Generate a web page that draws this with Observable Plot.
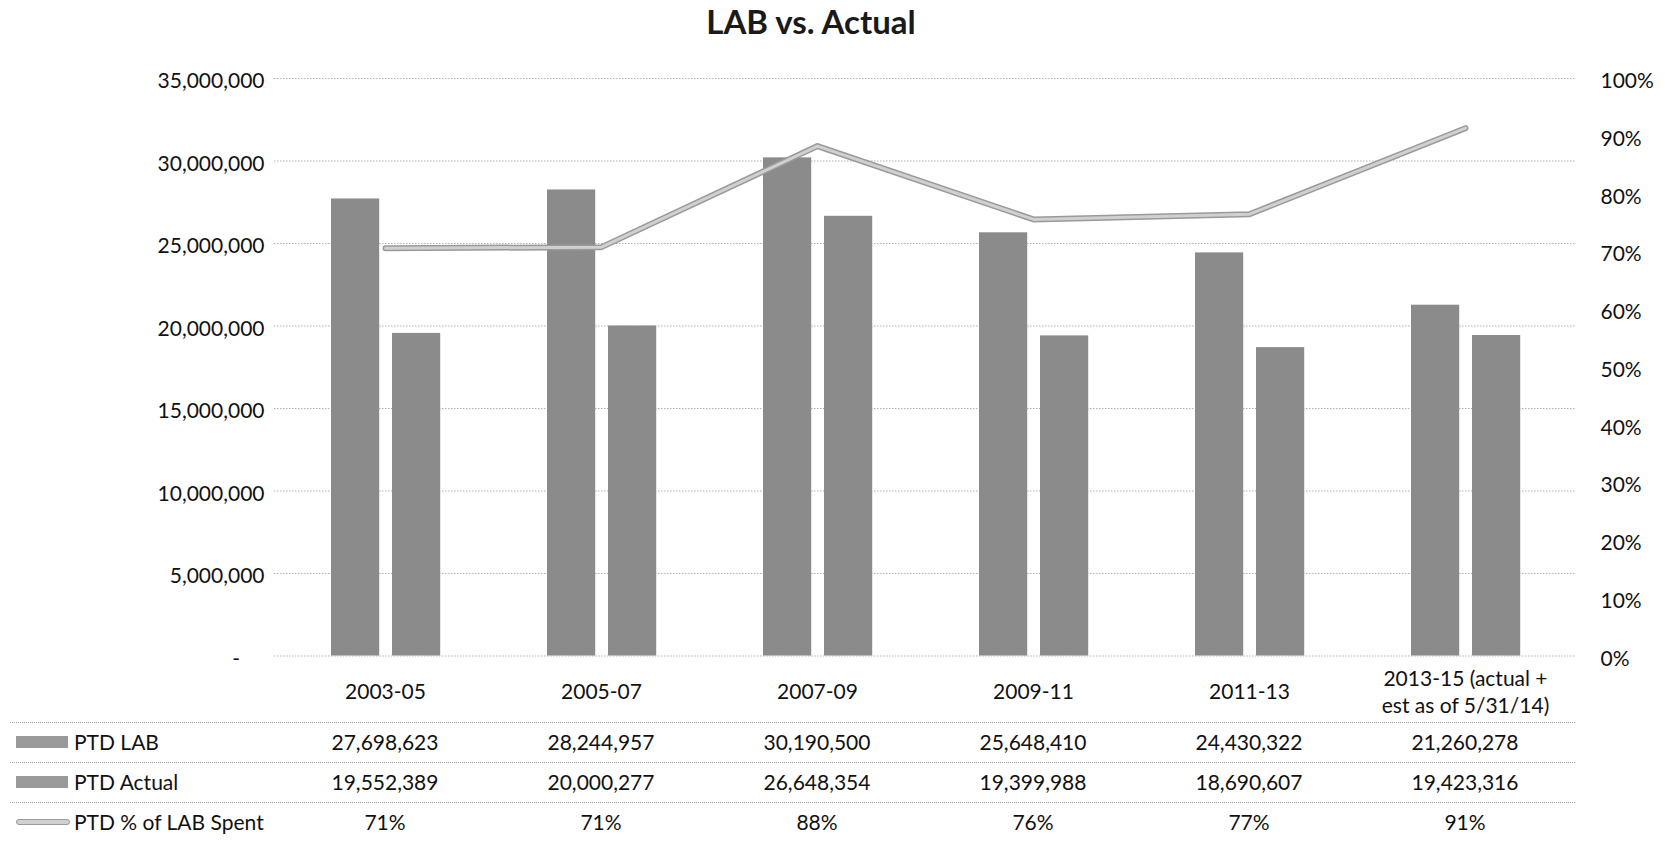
<!DOCTYPE html>
<html>
<head>
<meta charset="utf-8">
<script src="https://cdn.jsdelivr.net/npm/d3@7"></script>
<script src="https://cdn.jsdelivr.net/npm/@observablehq/plot@0.6"></script>
<style>
  html, body { margin: 0; padding: 0; background: #fff; }
  #root { position: relative; width: 1665px; height: 841px; font-family: Lato, "Open Sans", sans-serif; color: #111; overflow: hidden; }
  #title { position: absolute; left: 0; top: 0; width: 1622px; height: 42px; line-height: 42px; text-align: center; font-size: 33px; font-weight: bold; color: #1a1a1a; }
  #chart { position: absolute; left: 0; top: 44px; }
  .tline { position: absolute; height: 0; border-top: 1px dotted #a0a0a0; }
  .trow { position: absolute; height: 40px; line-height: 40px; font-size: 21px; white-space: nowrap; }
  .swatch { position: absolute; }
</style>
</head>
<body>
<div id="root">
  <div id="title">LAB vs. Actual</div>
  <div id="chart"></div>
</div>
<script>
// ---- data ----
const categories = ["2003-05", "2005-07", "2007-09", "2009-11", "2011-13", "2013-15"];
const categoryLabels = ["2003-05", "2005-07", "2007-09", "2009-11", "2011-13", "2013-15 (actual +\nest as of 5/31/14)"];
const ptdLab = [27698623, 28244957, 30190500, 25648410, 24430322, 21260278];
const ptdActual = [19552389, 20000277, 26648354, 19399988, 18690607, 19423316];
const ptdPct = [0.706, 0.708, 0.883, 0.756, 0.765, 0.914];
const pctLabels = ["71%", "71%", "88%", "76%", "77%", "91%"];
const seriesNames = ["PTD LAB", "PTD Actual", "PTD % of LAB Spent"];
const leftTicks = [0, 5000000, 10000000, 15000000, 20000000, 25000000, 30000000, 35000000];
const rightTicks = [0, 0.1, 0.2, 0.3, 0.4, 0.5, 0.6, 0.7, 0.8, 0.9, 1.0];
const yMax = 35000000;

const rows = categories.map((c, i) => ({
  cat: c, label: categoryLabels[i], lab: ptdLab[i], actual: ptdActual[i], pct: ptdPct[i]
}));

const barFill = "#8b8b8b";
const fmt = d3.format(",");

const plot = Plot.plot({
  width: 1665,
  height: 680,
  marginTop: 34,
  marginBottom: 68.5,
  marginLeft: 274,
  marginRight: 90,
  style: { fontFamily: "Lato, 'Open Sans', sans-serif", fontSize: "21px", color: "#111", background: "transparent" },
  x: { type: "band", domain: categories, padding: 0, axis: null },
  y: { domain: [0, yMax] },
  marks: [
    Plot.gridY(leftTicks, { stroke: "#a8a8a8", strokeOpacity: 0.9, strokeDasharray: "1.5,1.5" }),
    Plot.barY(rows, { x: "cat", y: "lab", fill: barFill, insetLeft: 54, insetRight: 113.8 }),
    Plot.barY(rows, { x: "cat", y: "actual", fill: barFill, insetLeft: 115, insetRight: 52.8 }),
    Plot.line(rows, { x: "cat", y: d => d.pct * yMax, stroke: "#9a9a9a", strokeWidth: 6, strokeLinecap: "round" }),
    Plot.line(rows, { x: "cat", y: d => d.pct * yMax, stroke: "#d0d0d0", strokeWidth: 3, strokeLinecap: "round" }),
    Plot.axisY({
      anchor: "left", ticks: leftTicks, tickSize: 0, tickPadding: 10, label: null, dy: 3,
      tickFormat: d => d === 0 ? "-\u2007\u2007" : fmt(d)
    }),
    Plot.axisY({
      anchor: "right", ticks: rightTicks.map(p => p * yMax), tickSize: 0, tickPadding: 25, label: null, dy: 3,
      tickFormat: d => Math.round(d / yMax * 100) + "%"
    }),
    Plot.text(rows, { x: "cat", text: "label", frameAnchor: "bottom", dy: 35, lineAnchor: "middle", lineHeight: 1.25, fontSize: 21 })
  ]
});
document.getElementById("chart").appendChild(plot);

// ---- data table below the chart ----
const root = document.getElementById("root");
const xs = plot.scale("x");
const centers = categories.map(c => xs.apply(c) + xs.bandwidth / 2);
const tableTop = 722;
const rowH = 40;
const tableRight = 1575;
const tableValues = [ptdLab.map(fmt), ptdActual.map(fmt), pctLabels];

seriesNames.forEach((name, r) => {
  const top = tableTop + r * rowH;
  const line = document.createElement("div");
  line.className = "tline";
  line.style.left = "10px";
  line.style.width = (tableRight - 10) + "px";
  line.style.top = top + "px";
  root.appendChild(line);

  const sw = document.createElement("div");
  sw.className = "swatch";
  if (r < 2) {
    sw.style.left = "16px"; sw.style.width = "52px";
    sw.style.top = (top + rowH / 2 - 6) + "px"; sw.style.height = "12px";
    sw.style.background = "#9a9a9a";
  } else {
    sw.style.left = "16px"; sw.style.width = "52px";
    sw.style.top = (top + rowH / 2 - 3) + "px"; sw.style.height = "4px";
    sw.style.background = "#d0d0d0"; sw.style.border = "1px solid #9a9a9a"; sw.style.borderRadius = "3px";
  }
  root.appendChild(sw);

  const lab = document.createElement("div");
  lab.className = "trow";
  lab.style.left = "74px";
  lab.style.top = top + "px";
  lab.textContent = name;
  root.appendChild(lab);

  tableValues[r].forEach((v, i) => {
    const cell = document.createElement("div");
    cell.className = "trow";
    cell.style.left = (centers[i] - 100) + "px";
    cell.style.width = "200px";
    cell.style.textAlign = "center";
    cell.style.top = top + "px";
    cell.textContent = v;
    root.appendChild(cell);
  });
});
</script>
</body>
</html>
